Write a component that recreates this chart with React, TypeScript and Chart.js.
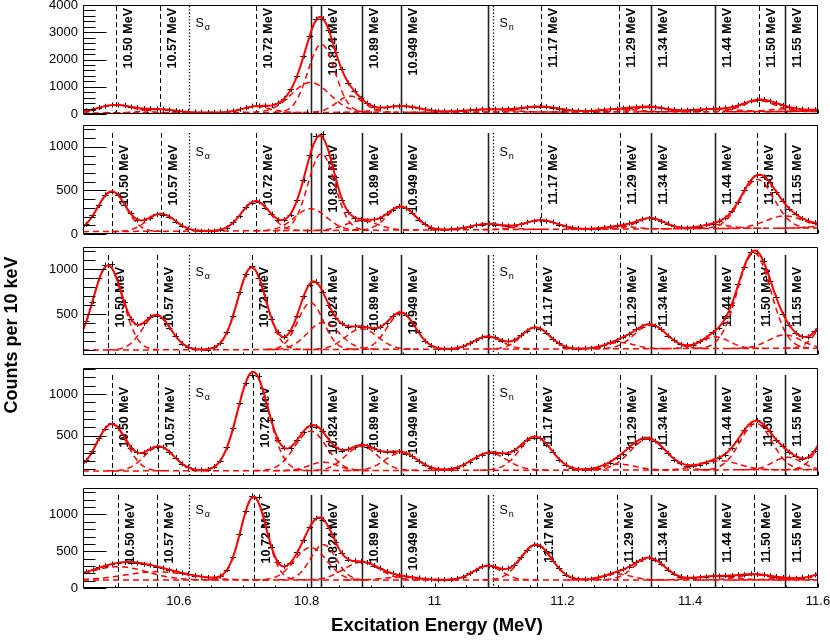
import React, { useEffect, useRef } from "react";
import { Chart, registerables } from "chart.js";

Chart.register(...registerables);

// ---------------- axis ranges / ticks ----------------
const X_MIN = 10.45;
const X_MAX = 11.6;
const BIN_START = 10.455;
const BIN_WIDTH = 0.01;

const xTickValues = [10.6, 10.8, 11.0, 11.2, 11.4, 11.6];
const xTickLabels = ["10.6", "10.8", "11", "11.2", "11.4", "11.6"];

const yTicks1 = [0, 1000, 2000, 3000, 4000];
const yTicks2 = [0, 500, 1000];
const yTicks3 = [500, 1000];
const yTicks4 = [500, 1000];
const yTicks5 = [0, 500, 1000];

const yMins = [0, 0, 45, 20, 0];
const yMaxs = [4000, 1250, 1245, 1310, 1360];
const yMajorSteps = [1000, 500, 500, 500, 500];
const yMinorSteps = [200, 100, 100, 100, 100];

// ---------------- measured counts per 10 keV bin (bin centres 10.455 ... 11.595) ----------------
const counts1 = [
  118, 165, 238, 284, 333, 329, 316, 262, 233, 198,
  195, 180, 177, 148, 126, 94, 82, 64, 63, 55,
  62, 65, 88, 114, 174, 229, 290, 298, 306, 312,
  401, 566, 905, 1398, 2135, 2870, 3485, 3498, 3072, 2290,
  1640, 1138, 848, 572, 398, 268, 241, 244, 280, 287,
  291, 252, 222, 168, 139, 107, 102, 96, 110, 119,
  143, 151, 170, 169, 178, 171, 186, 193, 225, 244,
  274, 272, 270, 231, 201, 155, 134, 111, 112, 114,
  137, 149, 178, 189, 216, 227, 256, 265, 276, 250,
  222, 183, 158, 135, 141, 145, 165, 172, 192, 196,
  220, 246, 318, 388, 480, 518, 530, 470, 402, 316,
  262, 204, 180, 157, 159,
];
const counts2 = [
  112, 214, 328, 449, 483, 452, 335, 236, 161, 160,
  183, 225, 222, 199, 141, 97, 57, 42, 31, 33,
  34, 49, 71, 132, 206, 307, 358, 370, 302, 228,
  160, 162, 222, 390, 615, 905, 1120, 1145, 910, 652,
  390, 250, 178, 165, 150, 167, 181, 234, 279, 318,
  295, 246, 166, 113, 70, 58, 50, 55, 58, 72,
  83, 103, 108, 118, 107, 104, 92, 101, 109, 135,
  145, 161, 148, 136, 107, 90, 70, 65, 56, 62,
  62, 75, 81, 96, 102, 124, 140, 171, 179, 176,
  145, 120, 88, 77, 69, 77, 86, 107, 119, 150,
  184, 266, 365, 508, 610, 682, 655, 595, 476, 382,
  286, 232, 178, 153, 128,
];
const counts3 = [
  420, 638, 898, 1040, 1052, 840, 633, 444, 385, 398,
  470, 480, 455, 350, 260, 172, 134, 110, 107, 106,
  131, 176, 300, 480, 742, 940, 1030, 905, 690, 444,
  298, 247, 322, 480, 697, 828, 858, 740, 602, 460,
  395, 357, 364, 354, 352, 330, 356, 398, 480, 508,
  495, 396, 298, 199, 150, 117, 114, 110, 126, 140,
  176, 207, 246, 248, 241, 206, 200, 209, 265, 312,
  356, 336, 294, 221, 175, 134, 124, 112, 120, 120,
  138, 152, 186, 206, 247, 276, 331, 360, 392, 367,
  330, 258, 210, 162, 156, 158, 196, 234, 296, 349,
  460, 600, 832, 1025, 1190, 1180, 1090, 870, 684, 498,
  380, 288, 252, 246, 310,
];
const counts4 = [
  206, 314, 470, 585, 650, 590, 490, 360, 306, 298,
  345, 368, 366, 304, 240, 164, 124, 96, 93, 97,
  132, 202, 362, 588, 896, 1130, 1228, 1215, 940, 684,
  450, 356, 360, 455, 545, 622, 610, 555, 444, 370,
  322, 341, 362, 392, 372, 352, 314, 310, 302, 313,
  286, 253, 196, 156, 116, 101, 94, 101, 115, 151,
  187, 240, 270, 300, 292, 290, 285, 326, 378, 454,
  478, 472, 392, 308, 212, 154, 111, 100, 94, 104,
  116, 149, 180, 238, 288, 362, 414, 466, 462, 438,
  360, 292, 214, 172, 141, 145, 153, 178, 197, 236,
  274, 356, 444, 568, 640, 685, 627, 552, 446, 379,
  306, 264, 228, 252, 322,
];
const counts5 = [
  222, 246, 280, 302, 328, 336, 350, 344, 340, 322,
  312, 288, 272, 246, 231, 204, 192, 170, 158, 143,
  146, 162, 249, 425, 740, 1045, 1250, 1238, 864, 560,
  348, 296, 345, 486, 648, 836, 952, 930, 820, 622,
  478, 386, 371, 356, 347, 306, 271, 224, 200, 173,
  163, 144, 137, 120, 119, 111, 115, 114, 131, 150,
  198, 242, 293, 300, 292, 260, 268, 312, 418, 514,
  590, 570, 500, 372, 270, 182, 145, 120, 121, 121,
  144, 162, 196, 218, 257, 290, 350, 388, 416, 383,
  330, 250, 197, 155, 144, 138, 149, 153, 165, 162,
  170, 167, 179, 180, 193, 186, 181, 162, 156, 142,
  140, 133, 142, 150, 178,
];

// ---------------- fitted peak parameters (centroid MeV, height counts, sigma MeV) ----------------
const centers1 = [10.501, 10.571, 10.721, 10.806, 10.823, 10.868, 10.948, 11.083, 11.166, 11.288, 11.338, 11.439, 11.508, 11.548, 11.625];
const heights1 = [290, 120, 220, 1100, 2500, 600, 230, 100, 200, 100, 165, 100, 400, 100, 80];
const sigmas1 = [0.028, 0.025, 0.022, 0.03, 0.021, 0.021, 0.03, 0.035, 0.03, 0.03, 0.025, 0.035, 0.025, 0.025, 0.03];

const centers2 = [10.495, 10.572, 10.72, 10.806, 10.823, 10.886, 10.948, 11.083, 11.166, 11.29, 11.338, 11.439, 11.505, 11.548, 11.625];
const heights2 = [460, 200, 340, 250, 880, 110, 265, 65, 105, 30, 120, 45, 560, 140, 40];
const sigmas2 = [0.022, 0.022, 0.022, 0.025, 0.021, 0.025, 0.022, 0.026, 0.026, 0.022, 0.022, 0.022, 0.026, 0.03, 0.025];

const centers3 = [10.489, 10.565, 10.714, 10.806, 10.826, 10.886, 10.948, 11.083, 11.158, 11.29, 11.338, 11.439, 11.5, 11.548, 11.625];
const heights3 = [940, 385, 915, 520, 300, 230, 400, 140, 240, 70, 265, 130, 1060, 150, 405];
const sigmas3 = [0.023, 0.022, 0.022, 0.02, 0.025, 0.025, 0.022, 0.022, 0.022, 0.022, 0.025, 0.022, 0.026, 0.025, 0.022];

const centers4 = [10.495, 10.569, 10.716, 10.806, 10.826, 10.886, 10.948, 11.086, 11.158, 11.289, 11.334, 11.446, 11.503, 11.552, 11.625];
const heights4 = [560, 290, 1180, 470, 100, 290, 210, 207, 396, 70, 370, 110, 555, 150, 530];
const sigmas4 = [0.023, 0.023, 0.024, 0.025, 0.022, 0.025, 0.025, 0.027, 0.025, 0.025, 0.028, 0.03, 0.025, 0.022, 0.022];

const centers5 = [10.505, 10.566, 10.717, 10.806, 10.826, 10.886, 10.948, 11.083, 11.159, 11.286, 11.336, 11.439, 11.5, 11.548, 11.625];
const heights5 = [180, 110, 1130, 440, 480, 240, 40, 190, 480, 80, 295, 50, 70, 20, 130];
const sigmas5 = [0.045, 0.05, 0.02, 0.025, 0.02, 0.028, 0.025, 0.022, 0.024, 0.022, 0.024, 0.03, 0.025, 0.025, 0.025];

// linear background (counts at 10.45 MeV and at 11.6 MeV)
const bgLeft = [40, 27, 100, 80, 110];
const bgRight = [90, 69, 120, 95, 110];

// ---------------- level markers ----------------
const dashedLevels1 = [10.501, 10.571, 10.721, 11.166, 11.288, 11.508];
const dashedLevels2 = [10.495, 10.572, 10.72, 11.166, 11.29, 11.504];
const dashedLevels3 = [10.489, 10.565, 10.715, 11.158, 11.29, 11.5];
const dashedLevels4 = [10.495, 10.568, 10.716, 11.158, 11.29, 11.503];
const dashedLevels5 = [10.505, 10.566, 10.717, 11.161, 11.286, 11.5];
const dashedLabels = ["10.50 MeV", "10.57 MeV", "10.72 MeV", "11.17 MeV", "11.29 MeV", "11.50 MeV"];

const solidLevels = [10.806, 10.823, 10.886, 10.948, 11.083, 11.338, 11.439, 11.548];
const solidLabels = ["", "10.824 MeV", "10.89 MeV", "10.949 MeV", "", "11.34 MeV", "11.44 MeV", "11.55 MeV"];

const thresholdLevels = [10.616, 11.092];
const thresholdSubscripts = ["α", "n"];

// ---------------- layout ----------------
const PANEL_TOPS = [5, 125, 247, 368, 488];
const PANEL_HEIGHTS = [109, 109, 108, 108, 100];
const LABEL_TOP = [3, 20, 20, 19, 15];
const S_TOP = [13, 22, 20, 20, 17];
const LINE_TOP = [1, 8, 8, 7, 7];
const PAD_TOP = 12;
const PAD_BOTTOM = 8;
const X_AXIS_H = 32;
const FONT_FAMILY = "'Liberation Sans', Arial, Helvetica, sans-serif";

type PanelData = {
  counts: number[];
  centers: number[];
  heights: number[];
  sigmas: number[];
  dashed: number[];
  yTicks: number[];
};

const panels: PanelData[] = [
  { counts: counts1, centers: centers1, heights: heights1, sigmas: sigmas1, dashed: dashedLevels1, yTicks: yTicks1 },
  { counts: counts2, centers: centers2, heights: heights2, sigmas: sigmas2, dashed: dashedLevels2, yTicks: yTicks2 },
  { counts: counts3, centers: centers3, heights: heights3, sigmas: sigmas3, dashed: dashedLevels3, yTicks: yTicks3 },
  { counts: counts4, centers: centers4, heights: heights4, sigmas: sigmas4, dashed: dashedLevels4, yTicks: yTicks4 },
  { counts: counts5, centers: centers5, heights: heights5, sigmas: sigmas5, dashed: dashedLevels5, yTicks: yTicks5 },
];

function bgValue(i: number, e: number) {
  return bgLeft[i] + ((bgRight[i] - bgLeft[i]) * (e - X_MIN)) / (X_MAX - X_MIN);
}
function gaussValue(e: number, c: number, h: number, s: number) {
  return h * Math.exp(-((e - c) * (e - c)) / (2 * s * s));
}
function fitValue(i: number, e: number) {
  const p = panels[i];
  let v = bgValue(i, e);
  for (let j = 0; j < p.centers.length; j++) v += gaussValue(e, p.centers[j], p.heights[j], p.sigmas[j]);
  return v;
}

const rootDecor = {
  id: "rootDecor",
  beforeDatasetsDraw(chart: any, _args: any, opts: any) {
    const idx = opts.panel as number;
    const p = panels[idx];
    const { ctx, chartArea: a } = chart;
    const xs = chart.scales.x;
    const ys = chart.scales.y;
    ctx.save();
    ctx.beginPath();
    ctx.rect(a.left, a.top, a.right - a.left, a.bottom - a.top);
    ctx.clip();

    const vline = (e: number, dash: number[], w: number, color: string) => {
      const px = Math.round(xs.getPixelForValue(e)) + 0.5;
      ctx.beginPath();
      ctx.setLineDash(dash);
      ctx.lineWidth = w;
      ctx.strokeStyle = color;
      ctx.moveTo(px, a.top + LINE_TOP[idx]);
      ctx.lineTo(px, a.bottom);
      ctx.stroke();
      return px;
    };
    const label = (px: number, text: string) => {
      if (!text) return;
      ctx.save();
      ctx.font = `bold 12.5px ${FONT_FAMILY}`;
      ctx.fillStyle = "#000";
      ctx.translate(px + 12, a.top + LABEL_TOP[idx]);
      ctx.rotate(-Math.PI / 2);
      ctx.textAlign = "right";
      ctx.textBaseline = "middle";
      ctx.fillText(text, 0, 0);
      ctx.restore();
    };

    p.dashed.forEach((e, k) => {
      const px = vline(e, [5, 3], 1, "#000");
      label(px, dashedLabels[k]);
    });
    solidLevels.forEach((e, k) => {
      const px = vline(e, [], 1.6, "#222");
      label(px, solidLabels[k]);
    });
    thresholdLevels.forEach((e, k) => {
      const px = vline(e, [1.3, 2], 1.3, "#000");
      ctx.save();
      ctx.fillStyle = "#000";
      ctx.font = `12.5px ${FONT_FAMILY}`;
      ctx.textAlign = "left";
      ctx.textBaseline = "alphabetic";
      const sx = px + 6;
      const sy = a.top + S_TOP[idx] + 9;
      ctx.fillText("S", sx, sy);
      const w = ctx.measureText("S").width;
      ctx.font = `9px ${FONT_FAMILY}`;
      ctx.fillText(thresholdSubscripts[k], sx + w + 1, sy + 3);
      ctx.restore();
    });

    // data points with error bars
    ctx.setLineDash([]);
    ctx.strokeStyle = "#000";
    ctx.lineWidth = 1;
    ctx.beginPath();
    p.counts.forEach((n, k) => {
      const e = BIN_START + k * BIN_WIDTH;
      const x0 = xs.getPixelForValue(e - BIN_WIDTH / 2);
      const x1 = xs.getPixelForValue(e + BIN_WIDTH / 2);
      const xc = xs.getPixelForValue(e);
      const yc = ys.getPixelForValue(n);
      const err = Math.sqrt(n);
      const half = Math.max(Math.abs(ys.getPixelForValue(n - err) - yc), 2.5);
      ctx.moveTo(x0, Math.round(yc) + 0.5);
      ctx.lineTo(x1, Math.round(yc) + 0.5);
      ctx.moveTo(Math.round(xc) + 0.5, yc - half);
      ctx.lineTo(Math.round(xc) + 0.5, yc + half);
    });
    ctx.stroke();
    ctx.restore();
  },
  afterDraw(chart: any, _args: any, opts: any) {
    const idx = opts.panel as number;
    const { ctx, chartArea: a } = chart;
    const xs = chart.scales.x;
    const ys = chart.scales.y;
    ctx.save();
    ctx.setLineDash([]);
    ctx.strokeStyle = "#000";
    ctx.lineWidth = 1;
    const L = Math.round(a.left) + 0.5;
    const T = Math.round(a.top) + 0.5;
    const R = Math.round(a.right) - 0.5;
    const B = Math.round(a.bottom) - 0.5;
    ctx.beginPath();
    ctx.rect(L, T, R - L, B - T);
    ctx.stroke();

    ctx.beginPath();
    const minor = yMinorSteps[idx];
    const major = yMajorSteps[idx];
    const start = Math.ceil(yMins[idx] / minor - 1e-9);
    for (let k = start; k * minor <= yMaxs[idx] + 1e-9; k++) {
      const v = k * minor;
      const py = Math.round(ys.getPixelForValue(v)) + 0.5;
      const isMajor = Math.abs(v / major - Math.round(v / major)) < 1e-6;
      ctx.moveTo(L, py);
      ctx.lineTo(L + (isMajor ? 23 : 12), py);
    }
    const xs0 = Math.ceil(X_MIN / 0.05 - 1e-9);
    for (let k = xs0; k * 0.05 <= X_MAX + 1e-9; k++) {
      const px = Math.round(xs.getPixelForValue(k * 0.05)) + 0.5;
      const isMajor = k % 4 === 0;
      ctx.moveTo(px, B);
      ctx.lineTo(px, B - (isMajor ? 4 : 2));
    }
    ctx.stroke();
    ctx.restore();
  },
};

function buildConfig(i: number): any {
  const p = panels[i];
  const last = i === panels.length - 1;
  const STEP = 0.002;
  const nSteps = Math.round((X_MAX - X_MIN) / STEP);

  const fitPts: { x: number; y: number }[] = [];
  for (let k = 0; k <= nSteps; k++) {
    const e = X_MIN + k * STEP;
    fitPts.push({ x: e, y: fitValue(i, e) });
  }

  const datasets: any[] = [
    {
      label: "fit",
      data: fitPts,
      borderColor: "#ff0000",
      borderWidth: 2,
      pointRadius: 0,
      fill: false,
      tension: 0,
    },
    {
      label: "background",
      data: [
        { x: X_MIN, y: bgValue(i, X_MIN) },
        { x: X_MAX, y: bgValue(i, X_MAX) },
      ],
      borderColor: "#ff0000",
      borderWidth: 1.5,
      borderDash: [6, 4],
      pointRadius: 0,
      fill: false,
    },
  ];

  p.centers.forEach((c, j) => {
    const s = p.sigmas[j];
    const lo = Math.max(X_MIN, c - 3.5 * s);
    const hi = Math.min(X_MAX, c + 3.5 * s);
    if (hi <= lo) return;
    const pts: { x: number; y: number }[] = [];
    const n = Math.max(2, Math.ceil((hi - lo) / STEP));
    for (let k = 0; k <= n; k++) {
      const e = lo + ((hi - lo) * k) / n;
      pts.push({ x: e, y: bgValue(i, e) + gaussValue(e, c, p.heights[j], s) });
    }
    datasets.push({
      label: "component " + j,
      data: pts,
      borderColor: "#ff0000",
      borderWidth: 1.5,
      borderDash: [6, 4],
      pointRadius: 0,
      fill: false,
      tension: 0,
    });
  });

  datasets.push({
    label: "counts",
    data: p.counts.map((n, k) => ({ x: BIN_START + k * BIN_WIDTH, y: n })),
    showLine: false,
    pointRadius: 0,
    borderColor: "#000",
  });

  return {
    type: "line",
    data: { datasets },
    options: {
      animation: false,
      responsive: false,
      maintainAspectRatio: false,
      events: [],
      layout: { padding: { left: 0, right: 12, top: PAD_TOP, bottom: last ? 0 : PAD_BOTTOM } },
      scales: {
        x: {
          type: "linear",
          min: X_MIN,
          max: X_MAX,
          display: last,
          grid: { display: false, drawTicks: false },
          border: { display: false },
          ticks: {
            autoSkip: false,
            maxRotation: 0,
            padding: 6,
            color: "#000",
            font: { family: FONT_FAMILY, size: 13 },
            callback: (v: number) => {
              const k = xTickValues.findIndex((t) => Math.abs(t - v) < 1e-6);
              return k >= 0 ? xTickLabels[k] : "";
            },
          },
          afterBuildTicks: (s: any) => {
            s.ticks = xTickValues.map((v) => ({ value: v }));
          },
          afterFit: (s: any) => {
            s.height = last ? X_AXIS_H : 0;
            s.paddingLeft = 0;
            s.paddingRight = 0;
          },
        },
        y: {
          type: "linear",
          min: yMins[i],
          max: yMaxs[i],
          grid: { display: false, drawTicks: false },
          border: { display: false },
          ticks: {
            padding: 5,
            color: "#000",
            font: { family: FONT_FAMILY, size: 13 },
            callback: (v: number) => String(v),
          },
          afterBuildTicks: (s: any) => {
            s.ticks = p.yTicks.map((v) => ({ value: v }));
          },
          afterFit: (s: any) => {
            s.width = 83;
            s.paddingTop = 0;
            s.paddingBottom = 0;
          },
        },
      },
      plugins: {
        legend: { display: false },
        tooltip: { enabled: false },
        rootDecor: { panel: i },
      },
    },
    plugins: [rootDecor],
  };
}

function Panel({ index }: { index: number }) {
  const ref = useRef<HTMLCanvasElement>(null);
  const last = index === panels.length - 1;
  const top = PANEL_TOPS[index] - PAD_TOP;
  const h = PAD_TOP + PANEL_HEIGHTS[index] + (last ? X_AXIS_H : PAD_BOTTOM);
  useEffect(() => {
    if (!ref.current) return;
    const chart = new Chart(ref.current, buildConfig(index));
    return () => chart.destroy();
  }, [index]);
  return (
    <canvas
      ref={ref}
      width={830}
      height={h}
      style={{ position: "absolute", left: 0, top, width: 830, height: h }}
    />
  );
}

export default function App() {
  return (
    <div
      style={{
        position: "absolute",
        left: 0,
        top: 0,
        width: 830,
        height: 641,
        background: "#fff",
        overflow: "hidden",
      }}
    >
      {panels.map((_, i) => (
        <Panel key={i} index={i} />
      ))}
      <div
        style={{
          position: "absolute",
          left: 11 - 150,
          top: 335 - 11,
          width: 300,
          height: 22,
          lineHeight: "22px",
          textAlign: "center",
          transform: "rotate(-90deg)",
          fontFamily: FONT_FAMILY,
          fontWeight: "bold",
          fontSize: 18,
          color: "#000",
          whiteSpace: "nowrap",
        }}
      >
        Counts per 10 keV
      </div>
      <div
        style={{
          position: "absolute",
          left: 437 - 200,
          top: 614,
          width: 400,
          height: 22,
          lineHeight: "22px",
          textAlign: "center",
          fontFamily: FONT_FAMILY,
          fontWeight: "bold",
          fontSize: 18.5,
          color: "#000",
          whiteSpace: "nowrap",
        }}
      >
        Excitation Energy (MeV)
      </div>
    </div>
  );
}
